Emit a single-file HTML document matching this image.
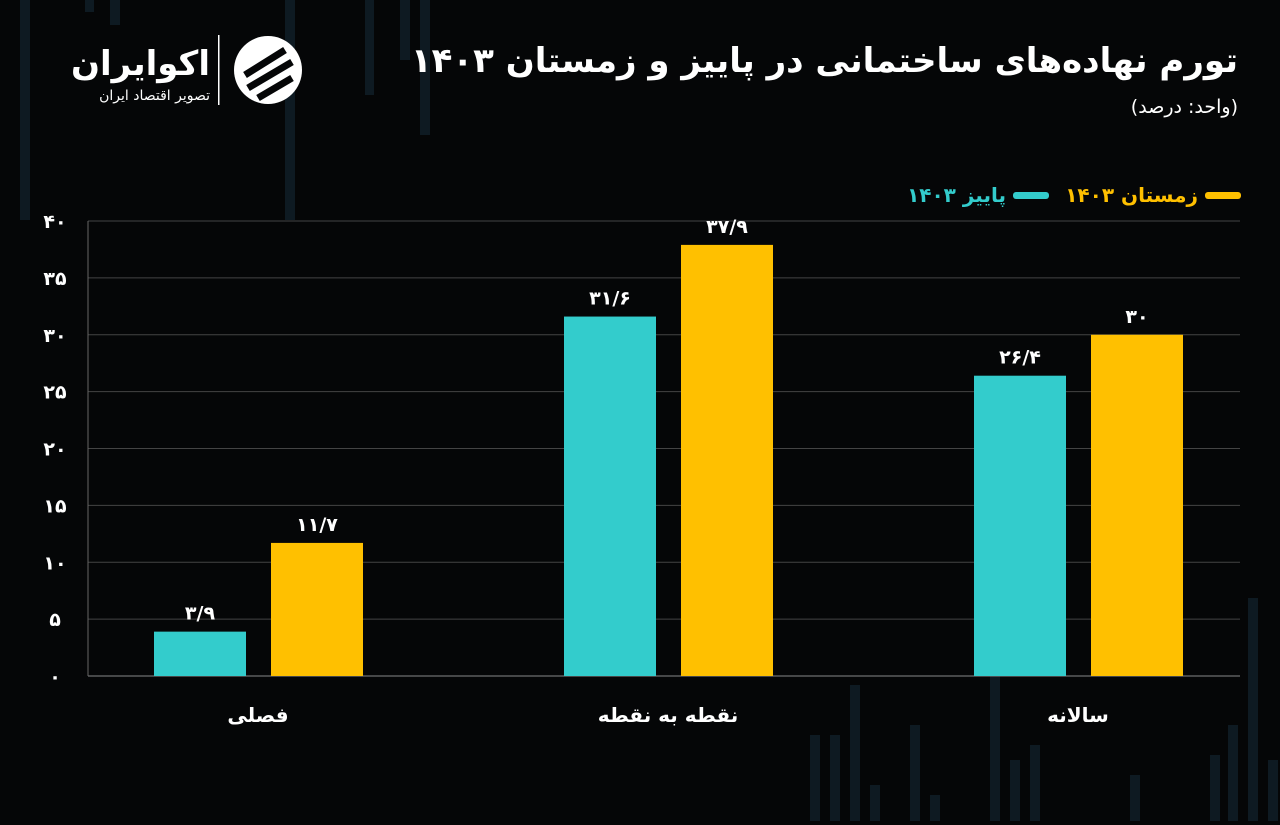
<!DOCTYPE html>
<html><head><meta charset="utf-8">
<style>
body{margin:0;width:1280px;height:821px;background:#050607;overflow:hidden;font-family:"DejaVu Sans","Liberation Sans",sans-serif;}
svg text{font-family:"DejaVu Sans","Liberation Sans",sans-serif;}
</style></head>
<body>
<svg width="1280" height="821">
<g id="bg" fill="#0e1a22">
<rect x="20" y="0" width="10" height="220"/><rect x="85" y="0" width="9" height="12"/><rect x="110" y="0" width="10" height="25"/><rect x="285" y="0" width="10" height="220"/><rect x="365" y="0" width="9" height="95"/><rect x="400" y="0" width="10" height="60"/><rect x="420" y="0" width="10" height="135"/>
<rect x="810" y="735" width="10" height="86"/><rect x="830" y="735" width="10" height="86"/><rect x="850" y="685" width="10" height="136"/><rect x="870" y="785" width="10" height="36"/><rect x="910" y="725" width="10" height="96"/><rect x="930" y="795" width="10" height="26"/><rect x="990" y="675" width="10" height="146"/><rect x="1010" y="760" width="10" height="61"/><rect x="1030" y="745" width="10" height="76"/><rect x="1130" y="775" width="10" height="46"/><rect x="1210" y="755" width="10" height="66"/><rect x="1228" y="725" width="10" height="96"/><rect x="1248" y="598" width="10" height="223"/><rect x="1268" y="760" width="10" height="61"/>
</g>
<text x="1238" y="72" text-anchor="end" fill="#fff" font-size="34" font-weight="bold">تورم نهاده‌های ساختمانی در پاییز و زمستان ۱۴۰۳</text>
<text x="1238" y="113" text-anchor="end" fill="#fff" font-size="19">(واحد: درصد)</text>
<g>
<text x="210" y="75" text-anchor="end" fill="#fff" font-size="34" font-weight="bold">اکوایران</text>
<text x="210" y="100" text-anchor="end" fill="#fff" font-size="14">تصویر اقتصاد ایران</text>
<rect x="218" y="35" width="1.5" height="70" fill="#fff"/>
<circle cx="268" cy="70" r="34" fill="#fff"/>
<path d="M245 75 L285 50 M248 88 L292 62 M258 98 L292 78" stroke="#050607" stroke-width="7"/>
</g>
<g>
<rect x="1205" y="192" width="36" height="7" rx="3" fill="#ffc000"/>
<text x="1198" y="202" text-anchor="end" fill="#ffc000" font-size="20" font-weight="bold">زمستان ۱۴۰۳</text>
<rect x="1013" y="192" width="36" height="7" rx="3" fill="#33cccc"/>
<text x="1006" y="202" text-anchor="end" fill="#33cccc" font-size="20" font-weight="bold">پاییز ۱۴۰۳</text>
</g>
<g id="plot"></g>
</svg>
<script>
const categories=["فصلی","نقطه به نقطه","سالانه"];
const autumn=[3.9,31.6,26.4];
const winter=[11.7,37.9,30];
const autumnLabels=["۳/۹","۳۱/۶","۲۶/۴"];
const winterLabels=["۱۱/۷","۳۷/۹","۳۰"];
const yTicks=[0,5,10,15,20,25,30,35,40];
const yTickLabels=["۰","۵","۱۰","۱۵","۲۰","۲۵","۳۰","۳۵","۴۰"];
const NS="http://www.w3.org/2000/svg";
const plot=document.getElementById('plot');
const y=v=>676-v*455/40;
const gx=i=>258+i*410;
function el(t,a){const e=document.createElementNS(NS,t);for(const k in a)e.setAttribute(k,a[k]);plot.appendChild(e);return e;}
yTicks.forEach((t,i)=>{
 const l=el('line',{x1:88,x2:1240,y1:y(t),y2:y(t),stroke:t===0?'#888':'#444','stroke-width':1});
 
 
 const tx=el('text',{x:55,y:y(t)+7,'text-anchor':'middle',fill:'#fff','font-size':19,'font-weight':'bold'});
 tx.textContent=yTickLabels[i];
 
 
});
const v=el('line',{x1:88,x2:88,y1:221,y2:676,stroke:'#666'});


categories.forEach((c,i)=>{
 [[autumn,autumnLabels,'#33cccc',-104,'autumn'],[winter,winterLabels,'#ffc000',13,'winter']].forEach(([s,lb,col,off,nm])=>{
  const r=el('rect',{x:gx(i)+off,y:y(s[i]),width:92,height:676-y(s[i]),fill:col});
  
  
  const t=el('text',{x:gx(i)+off+46,y:y(s[i])-12,'text-anchor':'middle',fill:'#fff','font-size':19,'font-weight':'bold'});
  t.textContent=lb[i];
  
  
 });
 const ct=el('text',{x:gx(i),y:722,'text-anchor':'middle',fill:'#fff','font-size':20,'font-weight':'bold'});
 ct.textContent=c;
 
 
});
</script>
</body></html>
